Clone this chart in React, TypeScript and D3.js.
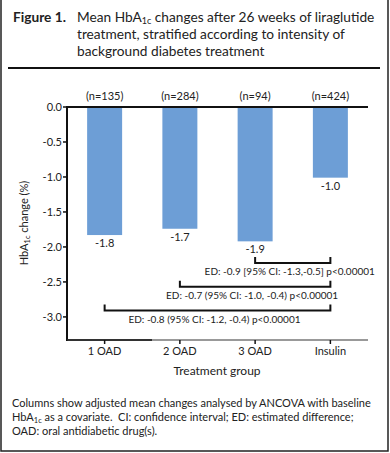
import * as d3 from 'd3';

// Data
const groups = ['1 OAD', '2 OAD', '3 OAD', 'Insulin'];
const changes = [-1.83, -1.74, -1.92, -1.01];
const valueLabels = ['-1.8', '-1.7', '-1.9', '-1.0'];
const nLabels = ['(n=135)', '(n=284)', '(n=94)', '(n=424)'];
const yTicks = [0, -0.5, -1, -1.5, -2, -2.5, -3];

// Comparison brackets: from group -> to group, bracket level (HbA1c units), text
const bracketFrom = ['3 OAD', '2 OAD', '1 OAD'];
const bracketTo = ['Insulin', 'Insulin', 'Insulin'];
const bracketLevel = [-2.23, -2.57, -2.91];
const bracketText = [
  'ED: -0.9 [95% CI: -1.3,-0.5] p<0.00001',
  'ED: -0.7 (95% CI: -1.0, -0.4) p<0.00001',
  'ED: -0.8 (95% CI: -1.2, -0.4) p<0.00001',
];

const FONT = 'Lato, "Open Sans", sans-serif';
const BAR = '#6d9ed6';

const W = 390;
const H = 453;
const plot = { left: 67, right: 368, top: 107, bottom: 340 };

export default function App() {
  const x = d3
    .scaleBand<string>()
    .domain(groups)
    .range([plot.left, plot.right])
    .paddingInner(0.535)
    .paddingOuter(0.2675);
  const y = d3.scaleLinear().domain([0, -3.33]).range([plot.top, plot.bottom]);
  const cx = (g: string) => (x(g) ?? 0) + x.bandwidth() / 2;
  // plain hyphen for negatives, as printed in the figure
  const fmt = (v: number) => d3.format('.1f')(v).replace('\u2212', '-');

  return (
    <svg
      width={W}
      height={H}
      style={{ position: 'absolute', left: 0, top: 0, fontFamily: FONT }}
    >
      <rect x={0} y={0} width={W} height={H} fill="#fff" />
      {/* frame */}
      <path d={`M1,0 V451 H388 V0`} fill="none" stroke="#222" strokeWidth={1.5} />

      {/* title */}
      <text x={13} y={22} fontSize={13.7} fontWeight={700} fill="#222">
        Figure 1.
      </text>
      <text x={77} y={22} fontSize={13.7} fill="#222">
        Mean HbA<tspan fontSize={9} dy={1.5}>1c</tspan>
        <tspan dy={-1.5}> changes after 26 weeks of liraglutide</tspan>
      </text>
      <text x={77} y={39} fontSize={13.7} fill="#222">
        treatment, stratified according to intensity of
      </text>
      <text x={77} y={56} fontSize={13.7} fill="#222">
        background diabetes treatment
      </text>
      <line x1={8} x2={380} y1={68} y2={68} stroke="#111" strokeWidth={2} />

      {/* bars */}
      {groups.map((g, i) => (
        <g key={g}>
          <rect
            x={x(g)}
            y={y(0)}
            width={x.bandwidth()}
            height={y(changes[i]) - y(0)}
            fill={BAR}
          />
          <text
            x={cx(g)}
            y={y(changes[i]) + 12}
            textAnchor="middle"
            fontSize={11}
            fill="#222"
          >
            {valueLabels[i]}
          </text>
          <text x={cx(g)} y={plot.top - 7} textAnchor="middle" fontSize={11} fill="#222">
            {nLabels[i]}
          </text>
        </g>
      ))}

      {/* zero line */}
      <line x1={plot.left} x2={plot.right} y1={y(0)} y2={y(0)} stroke="#111" strokeWidth={2} />

      {/* y axis */}
      <line x1={plot.left} x2={plot.left} y1={y(0) - 1} y2={plot.bottom + 1} stroke="#111" strokeWidth={2} />
      {yTicks.map((t) => (
        <g key={t}>
          <line x1={plot.left - 4} x2={plot.left} y1={y(t)} y2={y(t)} stroke="#111" strokeWidth={1.5} />
          <text
            x={plot.left - 5}
            y={y(t)}
            dy="0.35em"
            textAnchor="end"
            fontSize={11}
            fill="#222"
          >
            {fmt(t)}
          </text>
        </g>
      ))}
      <text
        transform={`translate(28,223) rotate(-90)`}
        textAnchor="middle"
        fontSize={11}
        fill="#222"
      >
        HbA<tspan fontSize={7.5} dy={2}>1c</tspan>
        <tspan dy={-2}> change (%)</tspan>
      </text>

      {/* x axis */}
      <line x1={plot.left} x2={plot.right} y1={plot.bottom} y2={plot.bottom} stroke="#777" strokeWidth={1.5} />
      <line x1={plot.left} x2={152} y1={plot.bottom} y2={plot.bottom} stroke="#111" strokeWidth={1.5} />
      {groups.map((g) => (
        <g key={g}>
          <line x1={cx(g)} x2={cx(g)} y1={plot.bottom} y2={plot.bottom + 4} stroke="#111" strokeWidth={1.5} />
          <text x={cx(g)} y={plot.bottom + 15} textAnchor="middle" fontSize={11} fill="#222">
            {g}
          </text>
        </g>
      ))}
      <text x={217} y={375} textAnchor="middle" fontSize={12} fill="#222">
        Treatment group
      </text>

      {/* comparison brackets */}
      {bracketFrom.map((f, i) => {
        const x1 = cx(f);
        const x2 = cx(bracketTo[i]);
        const by = y(bracketLevel[i]);
        return (
          <g key={f}>
            <path
              d={`M${x1},${by - 6} V${by} H${x2} V${by - 6}`}
              fill="none"
              stroke="#111"
              strokeWidth={2}
            />
            <text
              x={(x1 + x2) / 2 - 3}
              y={by + 12}
              textAnchor="middle"
              fontSize={10}
              fill="#222"
            >
              {bracketText[i]}
            </text>
          </g>
        );
      })}

      {/* footnote */}
      <text x={12} y={407} fontSize={11} fill="#222">
        Columns show adjusted mean changes analysed by ANCOVA with baseline
      </text>
      <text x={12} y={421} fontSize={11} fill="#222">
        HbA<tspan fontSize={7.5} dy={2}>1c</tspan>
        <tspan dy={-2}>{' as a covariate.\u00a0 CI: confidence interval; ED: estimated difference;'}</tspan>
      </text>
      <text x={12} y={435} fontSize={11} fill="#222">
        OAD: oral antidiabetic drug(s).
      </text>
    </svg>
  );
}
